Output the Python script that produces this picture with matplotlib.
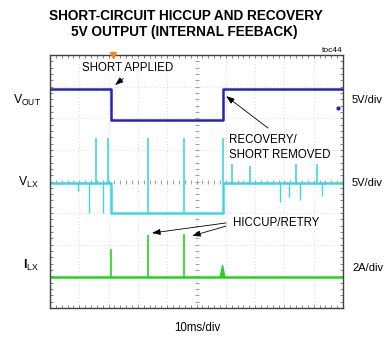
import numpy as np
import matplotlib.pyplot as plt

plt.rcParams['font.family'] = ['Liberation Sans', 'DejaVu Sans']
plt.rcParams['mathtext.fontset'] = 'custom'
plt.rcParams['mathtext.rm'] = 'Liberation Sans'
plt.rcParams['mathtext.it'] = 'Liberation Sans'

# scope screen: 10 x 8 divisions, values below are in divisions
n_xdiv, n_ydiv = 10, 8

# VOUT: high before the short, low while shorted
vout_levels = [6.93, 5.94]          # high, low
short_on, short_off = 2.07, 5.90    # time of short applied / removed

# VLX switching node
vlx_levels = [3.95, 3.0]
vlx_up_t = [1.56, 1.98, 3.33, 4.57, 5.90, 6.20, 6.83, 8.40, 9.10]
vlx_up_peak = [5.38, 5.38, 5.38, 5.38, 5.38, 4.55, 4.50, 4.55, 4.55]
vlx_dn_t = [0.96, 1.33, 1.81, 7.85, 8.16, 8.53, 9.30]
vlx_dn_low = [3.70, 3.00, 3.00, 3.35, 3.50, 3.40, 3.55]

# ILX inductor current with hiccup retries
ilx_level = 0.99
ilx_spike_t = [2.07, 3.33, 4.57]
ilx_spike_peak = [1.87, 2.31, 2.34]
ilx_bump_t, ilx_bump_peak = 5.89, 1.36

c_vout = '#2323b8'
c_vlx = '#3fd6e0'
c_ilx = '#22d41e'

fig = plt.figure(figsize=(3.85, 3.39), dpi=100)
fig.patch.set_facecolor('white')
ax = fig.add_axes([50 / 385, 1 - 308 / 339, 293 / 385, 253 / 339])
ax.set_xlim(0, n_xdiv)
ax.set_ylim(0, n_ydiv)

# graticule
for gx in range(1, n_xdiv):
    ax.axvline(gx, color='#cccccc', lw=0.6, ls=(0, (1, 3)), zorder=0)
for gy in range(1, n_ydiv):
    ax.axhline(gy, color='#cccccc', lw=0.6, ls=(0, (1, 3)), zorder=0)
minor_x = np.arange(0, n_xdiv + 0.01, 0.2)
minor_y = np.arange(0, n_ydiv + 0.01, 0.2)
ax.plot(minor_x, np.full_like(minor_x, n_ydiv / 2), ls='none', marker='|',
        ms=3, mew=0.6, color='#909090', zorder=0)
ax.plot(np.full_like(minor_y, n_xdiv / 2), minor_y, ls='none', marker='_',
        ms=3, mew=0.6, color='#909090', zorder=0)
ax.set_xticks(minor_x)
ax.set_yticks(minor_y)
ax.tick_params(direction='in', length=2, width=0.6, color='#707070',
               top=True, right=True, labelbottom=False, labelleft=False)
for sp in ax.spines.values():
    sp.set_color('#404040')
    sp.set_linewidth(1.0)

# VOUT trace
t_step = [0, short_on, short_on, short_off, short_off, n_xdiv]
ax.plot(t_step, [vout_levels[0], vout_levels[0], vout_levels[1],
                 vout_levels[1], vout_levels[0], vout_levels[0]],
        color=c_vout, lw=1.8, zorder=3)

# VLX trace
ax.plot(t_step, [vlx_levels[0], vlx_levels[0], vlx_levels[1],
                 vlx_levels[1], vlx_levels[0], vlx_levels[0]],
        color=c_vlx, lw=1.8, zorder=2)


def vlx_base(t):
    return np.where((np.array(t) > short_on) & (np.array(t) < short_off),
                    vlx_levels[1], vlx_levels[0])


ax.vlines(vlx_up_t, vlx_base(vlx_up_t), vlx_up_peak, color=c_vlx, lw=1.2, zorder=2)
ax.vlines(vlx_dn_t, vlx_base(vlx_dn_t), vlx_dn_low, color=c_vlx, lw=1.0, zorder=2)

# ILX trace
ax.axhline(ilx_level, color=c_ilx, lw=1.8, zorder=2)
ax.vlines(ilx_spike_t, ilx_level, ilx_spike_peak, color=c_ilx, lw=1.2, zorder=2)
ax.fill([ilx_bump_t - 0.08, ilx_bump_t, ilx_bump_t + 0.08],
        [ilx_level, ilx_bump_peak, ilx_level], color=c_ilx, lw=0.8, zorder=2)

# trigger marker
ax.plot([short_on + 0.08], [n_ydiv], marker='v', ms=4, color='#f08a20',
        clip_on=False, zorder=4)
ax.plot([9.82], [6.33], marker='o', ms=2, color=c_vout, zorder=4)

# annotations
arrow = dict(arrowstyle='-|>,head_length=0.5,head_width=0.18', color='black',
             lw=0.6, shrinkA=0, shrinkB=0)
ax.text(2.65, 7.59, 'SHORT APPLIED', ha='center', va='center', fontsize=8.3)
ax.annotate('', xy=(2.22, 7.05), xytext=(2.50, 7.26), arrowprops=arrow)
ax.text(6.11, 5.08, 'RECOVERY/\nSHORT REMOVED', ha='left', va='center',
        fontsize=8.3, linespacing=1.3)
ax.annotate('', xy=(6.01, 6.70), xytext=(7.44, 5.69), arrowprops=arrow)
ax.text(6.25, 2.69, 'HICCUP/RETRY', ha='left', va='center', fontsize=8.3)
ax.annotate('', xy=(3.48, 2.37), xytext=(6.01, 2.69), arrowprops=arrow)
ax.annotate('', xy=(4.85, 2.28), xytext=(6.01, 2.59), arrowprops=arrow)

# channel labels
fig.text(13 / 385, 1 - 100 / 339, r'V$_{\mathrm{OUT}}$', ha='left', va='center', fontsize=8.8)
fig.text(18 / 385, 1 - 182 / 339, r'V$_{\mathrm{LX}}$', ha='left', va='center', fontsize=8.8)
fig.text(23 / 385, 1 - 265 / 339, r'I$_{\mathrm{LX}}$', ha='left', va='center',
         fontsize=8.8, fontweight='bold')
for ypix, lab in [(100, '5V/div'), (183, '5V/div'), (268, '2A/div')]:
    fig.text(352 / 385, 1 - ypix / 339, lab, ha='left', va='center', fontsize=8)

fig.text(197 / 385, 1 - 328 / 339, '10ms/div', ha='center', va='center', fontsize=8.3)
fig.text(343 / 385, 1 - 51 / 339, 'toc44', ha='right', va='center', fontsize=6)

fig.text(186 / 385, 1 - 16 / 339, 'SHORT-CIRCUIT HICCUP AND RECOVERY',
         ha='center', va='center', fontsize=9.8, fontweight='bold')
fig.text(184 / 385, 1 - 32 / 339, '5V OUTPUT (INTERNAL FEEBACK)',
         ha='center', va='center', fontsize=9.8, fontweight='bold')

fig.savefig('out.png', dpi=100)
